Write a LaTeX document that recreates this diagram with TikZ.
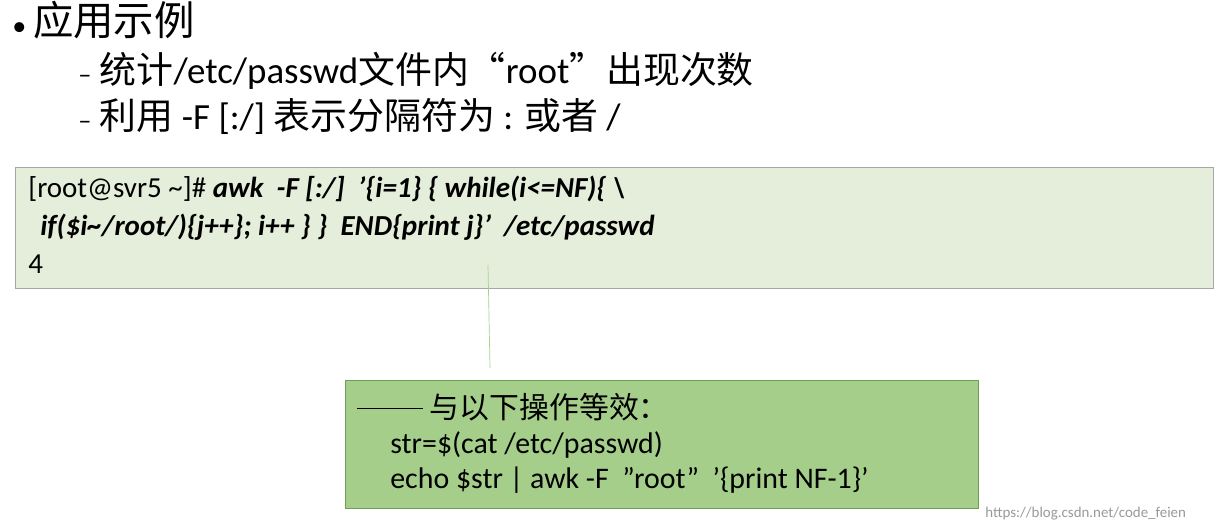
\documentclass[tikz,border=0pt]{standalone}
\usepackage{fontspec}
\setmainfont{Carlito}
\newfontfamily\cjk{Noto Sans CJK SC}
\definecolor{paleGreen}{HTML}{E5EEDA}
\definecolor{midGreen}{HTML}{A5CE8B}
\definecolor{edgeGreen}{HTML}{6F9E55}
\definecolor{lineGreen}{HTML}{A9D18E}
\newcommand{\dq}{\symbol{34}}
\newcommand{\sq}{\symbol{39}}
\begin{document}
\begin{tikzpicture}[x=0.02cm,y=-0.02cm]
\tikzstyle{every node}+=[inner sep=0pt,anchor=base west]
\tikzstyle{head}=[font=\fontsize{23}{27}\selectfont]
\tikzstyle{sub}=[font=\fontsize{21}{25}\selectfont]
\tikzstyle{code}=[font=\fontsize{16.5}{19}\selectfont]
\tikzstyle{note}=[font=\fontsize{17}{20}\selectfont]
\useasboundingbox (0,0) rectangle (1224,530);
\fill [white] (0,0) rectangle (1224,530);
% heading and bullet lines
\node [head] (title) at (12,36) {{\fontsize{16}{16}\selectfont•}\,{\cjk 应用示例}};
\node [sub] (sub1) at (78,84) {{\fontsize{15}{15}\selectfont–} {\cjk 统计}/etc/passwd{\cjk 文件内“}root{\cjk ”出现次数}};
\node [sub] (sub2) at (78,130) {{\fontsize{15}{15}\selectfont–} {\cjk 利用} -F [:/] {\cjk 表示分隔符为} : {\cjk 或者} /};
% command box
\draw [gray!70, fill=paleGreen] (15,167) rectangle (1213,288);
\node [code] (cmd1) at (28,198) {[root@svr5 \string~]\# \textbf{\textit{awk\ \ -F [:/]\ \ \sq\{i=1\} \{ while(i<=NF)\{ \textbackslash}}};
\node [code] (cmd2) at (40,236) {\textbf{\textit{if(\$i\string~/root/)\{j++\}; i++ \} \}\ \ END\{print j\}\sq\ \ /etc/passwd}}};
\node [code] (cmd3) at (28,274) {4};
% note box
\draw [edgeGreen, fill=midGreen] (345,380) rectangle (978,508);
\node [note] (note1) at (357,418) {\rule[0.3em]{2.2em}{0.6pt}\ {\cjk 与以下操作等效：}};
\node [note] (note2) at (390,453) {str=\$(cat /etc/passwd)};
\node [note] (note3) at (390,488) {echo \$str | awk -F\ \ \dq root\dq\ \ \sq\{print NF-1\}\sq};
\coordinate (tail) at (488,265);
\coordinate (tip) at (490,368);
\draw [lineGreen] (tail) -- (tip);
\node [font=\fontsize{8.5}{10}\selectfont, text=gray!80] (mark) at (985,517) {https://blog.csdn.net/code\_feien};
\end{tikzpicture}
\end{document}
